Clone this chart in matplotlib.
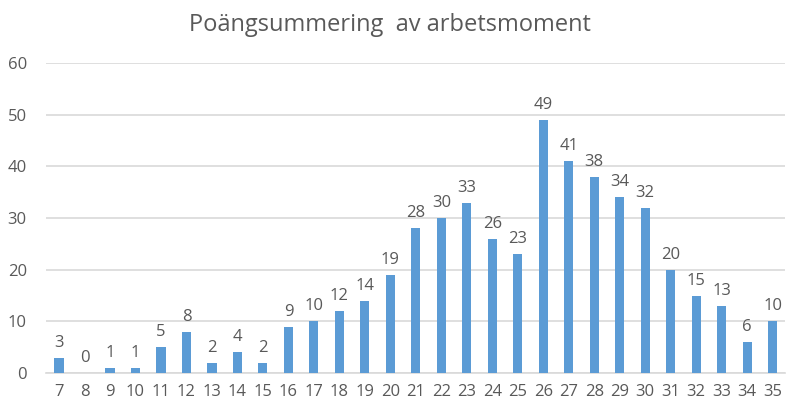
import matplotlib
matplotlib.use('Agg')
import matplotlib.pyplot as plt

# Poäng (x-axis categories) and number of occurrences
points = list(range(7, 36))
counts = [3, 0, 1, 1, 5, 8, 2, 4, 2, 9, 10, 12, 14, 19, 28, 30, 33, 26, 23,
          49, 41, 38, 34, 32, 20, 15, 13, 6, 10]
title = 'Poängsummering  av arbetsmoment'
yticks = [0, 10, 20, 30, 40, 50, 60]

BAR = '#5B9BD5'
TXT = '#595959'
GRID = '#D9D9D9'

plt.rcParams['font.family'] = ['Open Sans', 'DejaVu Sans']

fig = plt.figure(figsize=(7.88, 4.03), dpi=100)
ax = fig.add_axes([0.0587, 0.0744, 0.938, 0.7693])

xpos = list(range(len(points)))
ax.bar(xpos, counts, width=0.36, color=BAR, zorder=3)

for x, v in zip(xpos, counts):
    ax.annotate(str(v), (x, v), xytext=(0, 5), textcoords='offset points',
                ha='center', va='bottom', fontsize=12, color=TXT)

ax.set_xlim(-0.5, len(points) - 0.5)
ax.set_ylim(0, 60)
ax.set_yticks(yticks)
ax.set_xticks(xpos)
ax.set_xticklabels([str(p) for p in points])
ax.tick_params(axis='both', length=0, labelsize=12, colors=TXT)
ax.tick_params(axis='x', pad=8)
ax.tick_params(axis='y', pad=14)
ax.yaxis.grid(True, color=GRID, linewidth=1.2, zorder=0)
for s in ['top', 'right', 'left']:
    ax.spines[s].set_visible(False)
ax.spines['bottom'].set_color(GRID)
ax.spines['bottom'].set_linewidth(1.2)

fig.text(0.495, 0.937, title, ha='center', va='center', fontsize=17, color=TXT)

fig.savefig('out.png', dpi=100)
